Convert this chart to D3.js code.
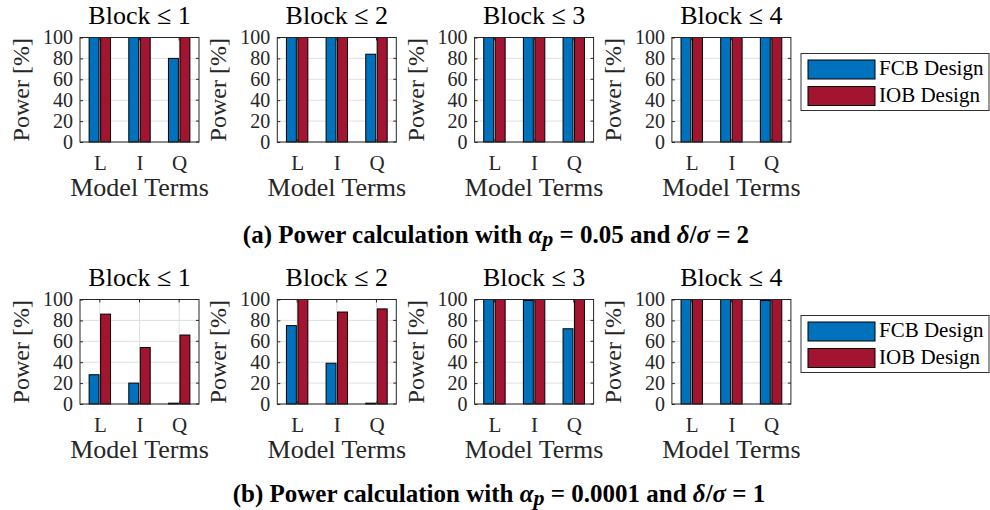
<!DOCTYPE html>
<html>
<head>
<meta charset="utf-8">
<script src="https://cdn.jsdelivr.net/npm/d3@7"></script>
<style>
  html, body { margin: 0; padding: 0; background: #fff; }
  svg { display: block; }
  text { font-family: "Liberation Serif", "Times New Roman", serif; }
</style>
</head>
<body>
<svg id="fig" width="990" height="510"></svg>
<script>
// Model terms on the x axis of every panel
const terms = ["L", "I", "Q"];
// Panel titles (maximum block considered)
const blockTitles = ["Block ≤ 1", "Block ≤ 2", "Block ≤ 3", "Block ≤ 4"];
// Design names shown in the legend
const seriesNames = ["FCB Design", "IOB Design"];
// Y axis ticks (power, %)
const yTicks = [0, 20, 40, 60, 80, 100];

// (a) alpha_p = 0.05, delta/sigma = 2 — one row per block panel, values for L, I, Q
const fcbA = [[100, 100, 80], [100, 100, 84], [100, 100, 100], [100, 100, 100]];
const iobA = [[100, 100, 100], [100, 100, 100], [100, 100, 100], [100, 100, 100]];
// (b) alpha_p = 0.0001, delta/sigma = 1
const fcbB = [[28, 20, 0.8], [75, 39, 0.8], [100, 99, 72], [100, 100, 99]];
const iobB = [[86, 54, 66], [100, 88, 91], [100, 100, 100], [100, 100, 100]];

// Sub-figure captions; segments flagged "m" are set as bold-italic math
const captionA = [["(a) Power calculation with ", ""], ["α", "m"], ["p", "sub"], [" = 0.05 and ", ""], ["δ", "m"], ["/", ""], ["σ", "m"], [" = 2", ""]];
const captionB = [["(b) Power calculation with ", ""], ["α", "m"], ["p", "sub"], [" = 0.0001 and ", ""], ["δ", "m"], ["/", ""], ["σ", "m"], [" = 1", ""]];

const colors = ["#0072BD", "#A2142F"];
const axisColor = "#262626";
const gridColor = "#dfdfdf";

const svg = d3.select("#fig");

// layout
const panelW = 119, panelH = 104.5;
const panelX = d3.scaleLinear().domain([0, 1]).range([80, 277.3]);   // panel index -> left edge
const rowY = d3.scaleLinear().domain([0, 1]).range([37.5, 299.5]);   // row index -> top edge

const rows = [
  { fcb: fcbA, iob: iobA, caption: captionA, capX: 496, capY: 243 },
  { fcb: fcbB, iob: iobB, caption: captionB, capX: 499, capY: 502 }
];

const x = d3.scaleLinear().domain([0.5, 3.5]).range([0, panelW]);
const y = d3.scaleLinear().domain([0, 100]).range([panelH, 0]);
const barW = 0.25, barOff = 0.145;

rows.forEach((row, r) => {
  const top = rowY(r);
  blockTitles.forEach((title, p) => {
    const g = svg.append("g").attr("transform", `translate(${panelX(p)},${top})`);

    // grid
    g.append("g").selectAll("line").data(yTicks).join("line")
      .attr("x1", 0).attr("x2", panelW)
      .attr("y1", d => y(d)).attr("y2", d => y(d))
      .attr("stroke", gridColor).attr("stroke-width", 1);
    g.append("g").selectAll("line").data(terms).join("line")
      .attr("x1", (d, i) => x(i + 1)).attr("x2", (d, i) => x(i + 1))
      .attr("y1", 0).attr("y2", panelH)
      .attr("stroke", gridColor).attr("stroke-width", 1);

    // bars
    const series = [row.fcb[p], row.iob[p]];
    series.forEach((vals, s) => {
      g.append("g").selectAll("rect").data(vals).join("rect")
        .attr("x", (d, i) => x(i + 1 + (s === 0 ? -barOff : barOff) - barW / 2))
        .attr("width", x(barW) - x(0))
        .attr("y", d => y(d))
        .attr("height", d => y(0) - y(d))
        .attr("fill", colors[s])
        .attr("stroke", "#000").attr("stroke-width", 1);
    });

    // axes
    const yAxis = d3.axisLeft(y).tickValues(yTicks).tickSize(-3).tickPadding(7);
    const ya = g.append("g").call(yAxis);
    ya.select(".domain").remove();
    ya.selectAll("line").attr("stroke", axisColor);
    ya.selectAll("text").attr("font-size", 20).attr("fill", axisColor)
      .attr("font-family", "Liberation Serif");

    const xAxis = d3.axisBottom(x).tickValues([1, 2, 3]).tickFormat((d, i) => terms[i]).tickSize(-3).tickPadding(13);
    const xa = g.append("g").attr("transform", `translate(0,${panelH})`).call(xAxis);
    xa.select(".domain").remove();
    xa.selectAll("line").attr("stroke", axisColor);
    xa.selectAll("text").attr("font-size", 21).attr("fill", axisColor)
      .attr("font-family", "Liberation Serif");

    // right / top inward ticks
    g.append("g").selectAll("line").data(yTicks).join("line")
      .attr("x1", panelW).attr("x2", panelW - 3)
      .attr("y1", d => y(d)).attr("y2", d => y(d)).attr("stroke", axisColor);
    g.append("g").selectAll("line").data([1, 2, 3]).join("line")
      .attr("x1", d => x(d)).attr("x2", d => x(d))
      .attr("y1", 0).attr("y2", 3).attr("stroke", axisColor);

    // box
    g.append("rect").attr("x", 0).attr("y", 0).attr("width", panelW).attr("height", panelH)
      .attr("fill", "none").attr("stroke", axisColor).attr("stroke-width", 1);

    // title and labels
    g.append("text").attr("x", panelW / 2).attr("y", -13.5)
      .attr("text-anchor", "middle").attr("font-size", 26).attr("fill", "#000").text(title);
    g.append("text").attr("x", panelW / 2).attr("y", panelH + 54)
      .attr("text-anchor", "middle").attr("font-size", 26).attr("fill", axisColor).text("Model Terms");
    g.append("text").attr("transform", `translate(-51,${panelH / 2}) rotate(-90)`)
      .attr("text-anchor", "middle").attr("font-size", 24).attr("fill", axisColor).text("Power [%]");
  });

  // legend
  const lg = svg.append("g").attr("transform", `translate(801,${top + 16})`);
  lg.append("rect").attr("x", 0).attr("y", 0).attr("width", 188).attr("height", 57)
    .attr("fill", "#fff").attr("stroke", "#333").attr("stroke-width", 1);
  seriesNames.forEach((name, s) => {
    lg.append("rect").attr("x", 7).attr("y", 6.5 + s * 26.5).attr("width", 67).attr("height", 19)
      .attr("fill", colors[s]).attr("stroke", "#000").attr("stroke-width", 1);
    lg.append("text").attr("x", 78).attr("y", 21.5 + s * 26.5)
      .attr("font-size", 21).attr("fill", "#000").text(name);
  });

  // caption
  const cap = svg.append("text").attr("x", row.capX).attr("y", row.capY)
    .attr("text-anchor", "middle").attr("font-size", 25).attr("font-weight", "bold").attr("fill", "#000");
  row.caption.forEach(([t, kind]) => {
    const ts = cap.append("tspan").text(t);
    if (kind === "m") ts.attr("font-style", "italic");
    if (kind === "sub") ts.attr("font-style", "italic").attr("baseline-shift", "-3").attr("font-size", 22);
  });
});
</script>
</body>
</html>
